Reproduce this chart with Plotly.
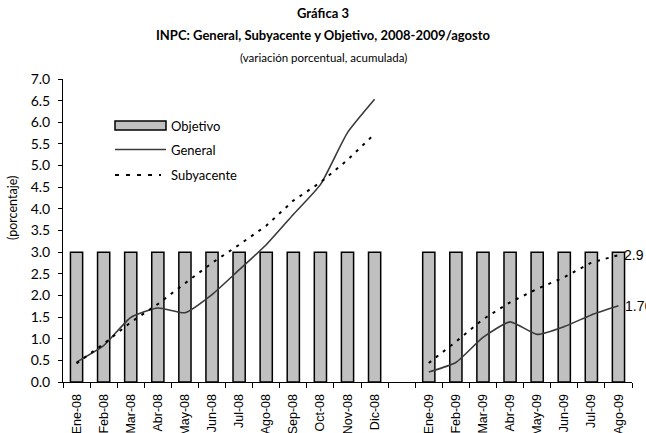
import plotly.graph_objects as go

# ---- data ----
categories = ["Ene-08", "Feb-08", "Mar-08", "Abr-08", "May-08", "Jun-08", "Jul-08",
              "Ago-08", "Sep-08", "Oct-08", "Nov-08", "Dic-08", " ",
              "Ene-09", "Feb-09", "Mar-09", "Abr-09", "May-09", "Jun-09", "Jul-09", "Ago-09"]
objetivo = [3.0] * 12 + [None] + [3.0] * 8
general = [0.46, 0.84, 1.49, 1.71, 1.60, 2.02, 2.59, 3.17, 3.87, 4.56, 5.76, 6.53, None,
           0.23, 0.45, 1.03, 1.39, 1.10, 1.28, 1.55, 1.76]
subyacente = [0.43, 0.88, 1.38, 1.80, 2.28, 2.75, 3.17, 3.61, 4.19, 4.61, 5.13, 5.73, None,
              0.44, 0.93, 1.45, 1.84, 2.15, 2.42, 2.76, 2.93]
end_labels = ["2.9", "1.76"]

TEXT_FONT = "Lato, 'Noto Sans', sans-serif"
TICK_FONT = "'Liberation Sans', Arial, sans-serif"

W, H = 646, 433
L, R, T, B = 63, 14, 79, 51
pw, ph = W - L - R, H - T - B


def px(x):
    return (x - L) / pw


def py(y):
    return 1 - (y - T) / ph


fig = go.Figure()
fig.add_trace(go.Bar(x=categories, y=objetivo, name="Objetivo", width=0.45,
                     marker=dict(color="#c0c0c0", line=dict(color="#000000", width=1.5))))
fig.add_trace(go.Scatter(x=categories, y=general, name="General", mode="lines",
                         line=dict(color="#3a3a3a", width=1.6, shape="spline", smoothing=0.5),
                         connectgaps=False))
fig.add_trace(go.Scatter(x=categories, y=subyacente, name="Subyacente", mode="lines",
                         line=dict(color="#000000", width=2, dash="3px,6px"),
                         connectgaps=False))

# end labels
fig.add_annotation(x=categories[-1], y=subyacente[-1], text=end_labels[0], showarrow=False,
                   xanchor="left", yanchor="middle", xshift=4,
                   font=dict(family=TICK_FONT, size=14, color="#000"))
fig.add_annotation(x=categories[-1], y=general[-1], text=end_labels[1], showarrow=False,
                   xanchor="left", yanchor="middle", xshift=5,
                   font=dict(family=TICK_FONT, size=14, color="#000"))

# titles
title_x = px(323)
fig.add_annotation(xref="paper", yref="paper", x=title_x, y=py(13), yanchor="middle",
                   xanchor="center", showarrow=False, text="<b>Gráfica 3</b>",
                   font=dict(family=TEXT_FONT, size=13, color="#000"))
fig.add_annotation(xref="paper", yref="paper", x=title_x, y=py(35), yanchor="middle",
                   xanchor="center", showarrow=False,
                   text="<b>INPC: General, Subyacente y Objetivo, 2008-2009/agosto</b>",
                   font=dict(family=TEXT_FONT, size=13, color="#000"))
fig.add_annotation(xref="paper", yref="paper", x=title_x, y=py(57), yanchor="middle",
                   xanchor="center", showarrow=False,
                   text="(variación porcentual, acumulada)",
                   font=dict(family=TEXT_FONT, size=11.5, color="#000"))
# y title
fig.add_annotation(xref="paper", yref="paper", x=px(13), y=py(208), xanchor="center",
                   yanchor="middle", showarrow=False, text="(porcentaje)", textangle=-90,
                   font=dict(family=TEXT_FONT, size=12.5, color="#000"))

# custom legend
fig.add_shape(type="rect", xref="paper", yref="paper", x0=px(115), x1=px(166),
              y0=py(121), y1=py(130), fillcolor="#c0c0c0", line=dict(color="#000", width=1.5))
fig.add_shape(type="line", xref="paper", yref="paper", x0=px(115), x1=px(166),
              y0=py(149.5), y1=py(149.5), line=dict(color="#3a3a3a", width=1.6))
fig.add_shape(type="line", xref="paper", yref="paper", x0=px(115), x1=px(161),
              y0=py(175), y1=py(175), line=dict(color="#000", width=2, dash="4px,7px"))
for label, yy in [("Objetivo", 126), ("General", 150), ("Subyacente", 175)]:
    fig.add_annotation(xref="paper", yref="paper", x=px(169), y=py(yy), text=label,
                       showarrow=False, xanchor="left", yanchor="middle",
                       font=dict(family=TEXT_FONT, size=13, color="#000"))

fig.update_layout(
    width=W, height=H,
    margin=dict(l=L, r=R, t=T, b=B, pad=0),
    paper_bgcolor="white", plot_bgcolor="white",
    showlegend=False,
    xaxis=dict(type="category", categoryorder="array", categoryarray=categories,
               range=[-0.5, 20.5], tickson="boundaries", ticks="outside", ticklen=5,
               tickcolor="#000", tickwidth=1, showline=True, linecolor="#000", linewidth=1,
               showgrid=False, zeroline=False, tickangle=-90, automargin=False,
               ticklabelstandoff=6,
               tickfont=dict(family=TICK_FONT, size=12.5, color="#000")),
    yaxis=dict(range=[0, 7], dtick=0.5, tickformat=".1f", ticks="outside", ticklen=4,
               tickcolor="#000", tickwidth=1, showline=True, linecolor="#000", linewidth=1,
               showgrid=False, zeroline=False, automargin=False,
               ticklabelstandoff=5,
               tickfont=dict(family=TEXT_FONT, size=14, color="#000")),
)

fig.write_html("out.html", config={"displayModeBar": False},
               post_script="document.body.style.margin='0';document.body.style.overflow='hidden';")
